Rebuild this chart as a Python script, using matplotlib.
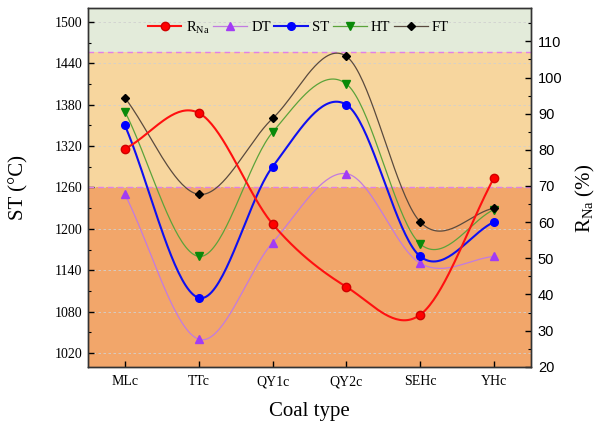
import numpy as np
import matplotlib
matplotlib.use("Agg")
import matplotlib.pyplot as plt
from matplotlib.ticker import MultipleLocator

categories = ["MLc", "TTc", "QY1c", "QY2c", "SEHc", "YHc"]
DT = [1250, 1040, 1180, 1280, 1150, 1160]
ST = [1350, 1100, 1290, 1380, 1160, 1210]
HT = [1370, 1160, 1340, 1410, 1178, 1228]
FT = [1390, 1250, 1360, 1450, 1210, 1230]
RNa = [80.3, 90.2, 59.5, 42.1, 34.4, 72.3]


def smooth_curve(x, y, n=40):
    """Cubic Hermite (Catmull-Rom style) curve through the points."""
    x = np.asarray(x, float)
    y = np.asarray(y, float)
    m = len(x)
    d = np.empty(m)
    d[0] = (y[1] - y[0]) / (x[1] - x[0])
    d[-1] = (y[-1] - y[-2]) / (x[-1] - x[-2])
    for i in range(1, m - 1):
        d[i] = (y[i + 1] - y[i - 1]) / (x[i + 1] - x[i - 1])
    xs_all, ys_all = [], []
    for i in range(m - 1):
        h = x[i + 1] - x[i]
        t = np.linspace(0, 1, n, endpoint=(i == m - 2))
        h00 = 2 * t ** 3 - 3 * t ** 2 + 1
        h10 = t ** 3 - 2 * t ** 2 + t
        h01 = -2 * t ** 3 + 3 * t ** 2
        h11 = t ** 3 - t ** 2
        xs_all.append(x[i] + t * h)
        ys_all.append(h00 * y[i] + h10 * h * d[i] + h01 * y[i + 1] + h11 * h * d[i + 1])
    return np.concatenate(xs_all), np.concatenate(ys_all)


serif = ["Liberation Serif", "DejaVu Serif"]
sans = ["Liberation Sans", "DejaVu Sans"]

fig = plt.figure(figsize=(5.97, 4.26), dpi=100)
ax = fig.add_axes([0.1474, 0.139, 0.742, 0.842])
ax2 = ax.twinx()

x = np.arange(len(categories))
ax.set_xlim(-0.5, 5.5)
ax.set_ylim(1000, 1520)
ax2.set_ylim(20, 119.2)

# background bands
ax.axhspan(1000, 1260, color="#F2A66A", zorder=0, lw=0)
ax.axhspan(1260, 1456, color="#F7D69E", zorder=0, lw=0)
ax.axhspan(1456, 1520, color="#E3EBDA", zorder=0, lw=0)
for yv in (1260, 1456):
    ax.axhline(yv, color="#E27FE8", ls=(0, (4, 3)), lw=1.0, zorder=1)

ax.set_yticks(np.arange(1020, 1501, 60))
ax.yaxis.set_minor_locator(MultipleLocator(30))
ax.grid(axis="y", which="major", ls=(0, (3, 3)), color="#D0D0D0", lw=0.6, zorder=0.5)
ax.set_axisbelow(True)

series = [
    ("DT", DT, "#C27BE0", "#A23CF5", "^", 0.9),
    ("ST", ST, "#1010F0", "#0000FF", "o", 1.5),
    ("HT", HT, "#5BA33A", "#0A8A0A", "v", 0.9),
    ("FT", FT, "#5A4A3E", "#000000", "D", 0.9),
]
handles = {}
for name, vals, lc, mc, mk, lw in series:
    xs, ys = smooth_curve(x, vals)
    ms = 5.5 if mk != "D" else 4.5
    ax.plot(xs, ys, color=lc, lw=lw, zorder=3)
    ax.plot(x, vals, ls="none", marker=mk, color=mc, ms=ms, zorder=4)
    h, = ax.plot([], [], color=lc, lw=lw, marker=mk, mfc=mc, mec=mc, ms=ms)
    handles[name] = h

xs, ys = smooth_curve(x, RNa)
ax2.plot(xs, ys, color="#FF1010", lw=1.5, zorder=3)
ax2.plot(x, RNa, ls="none", marker="o", color="#FF0000", mec="#D00000", ms=6, zorder=4)
hR, = ax2.plot([], [], color="#FF1010", lw=1.5, marker="o", mfc="#FF0000", mec="#D00000", ms=6)

ax2.set_yticks(np.arange(20, 111, 10))
ax2.yaxis.set_minor_locator(MultipleLocator(5))

ax.set_xticks(x)
ax.set_xticklabels(categories, fontfamily=serif, fontsize=10)
for lab in ax.get_yticklabels():
    lab.set_fontfamily(serif)
    lab.set_fontsize(10)
for lab in ax2.get_yticklabels():
    lab.set_fontfamily(sans)
    lab.set_fontsize(10.5)

for a in (ax, ax2):
    a.tick_params(which="major", direction="in", length=4, width=1.0)
    a.tick_params(which="minor", direction="in", length=2.5, width=0.8)
    for s in a.spines.values():
        s.set_linewidth(1.0)
        s.set_color("#333333")
ax.tick_params(axis="x", pad=6)
ax.tick_params(axis="y", pad=4)
ax2.tick_params(axis="y", pad=5)

ax.set_xlabel("Coal type", fontfamily=serif, fontsize=15, labelpad=10)
ax.set_ylabel("ST (°C)", fontfamily=serif, fontsize=15)
ax.yaxis.set_label_coords(-0.135, 0.5)
ax2.set_ylabel(r"R$_{\mathregular{Na}}$ (%)", fontfamily=serif, fontsize=15)
ax2.yaxis.set_label_coords(1.098, 0.47)

leg = ax.legend([hR, handles["DT"], handles["ST"], handles["HT"], handles["FT"]],
                [r"R$_{\mathregular{Na}}$", "DT", "ST", "HT", "FT"],
                loc="upper center", bbox_to_anchor=(0.475, 1.0), ncol=5, frameon=False,
                prop={"family": serif, "size": 10.5}, handlelength=2.3,
                handletextpad=0.3, columnspacing=0.25, borderaxespad=0.35)
leg.set_zorder(10)

fig.savefig("out.png", dpi=100)
